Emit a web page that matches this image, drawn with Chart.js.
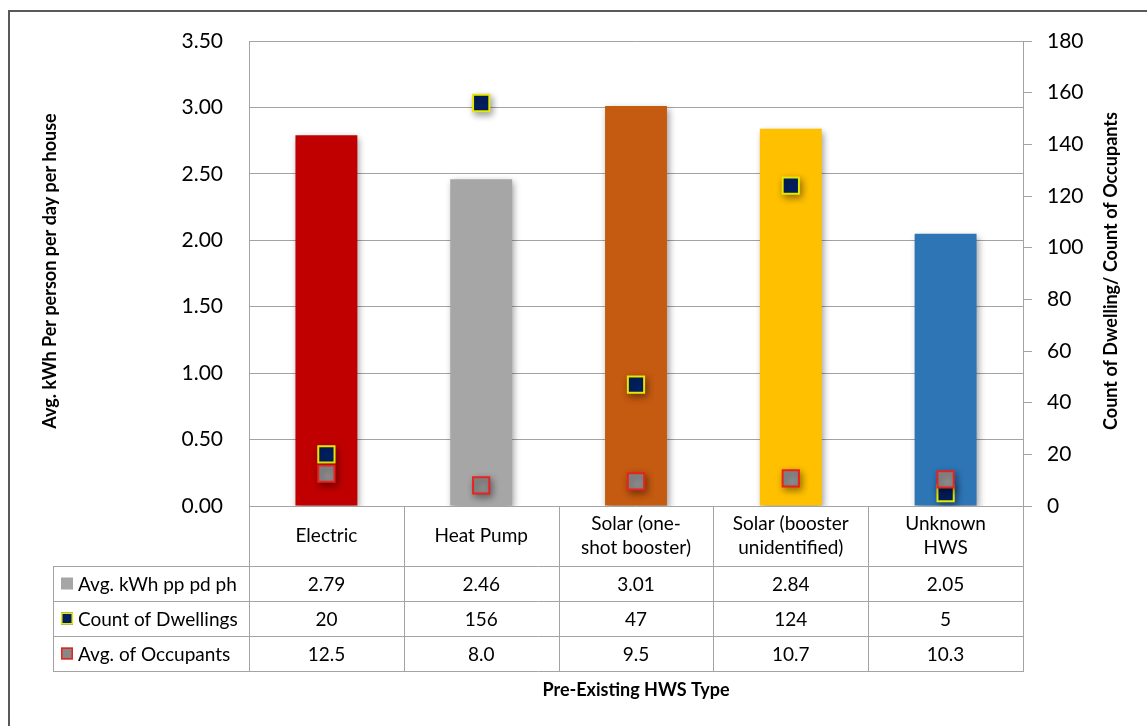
<!DOCTYPE html>
<html>
<head>
<meta charset="utf-8">
<script src="https://cdn.jsdelivr.net/npm/chart.js@4"></script>
<style>
  html, body { margin: 0; padding: 0; background: #fff; }
  #wrap { width: 1147px; height: 726px; position: relative; }
</style>
</head>
<body>
<div id="wrap"><canvas id="hwsChart"></canvas></div>
<script>
// HWS types (multi-line labels as shown in the table header)
const hwsTypes = [
  ['Electric'],
  ['Heat Pump'],
  ['Solar (one-', 'shot booster)'],
  ['Solar (booster', 'unidentified)'],
  ['Unknown', 'HWS']
];
const avgKwh = [2.79, 2.46, 3.01, 2.84, 2.05];
const dwellingCount = [20, 156, 47, 124, 5];
const avgOccupants = [12.5, 8.0, 9.5, 10.7, 10.3];

const seriesNames = ['Avg. kWh pp pd ph', 'Count of Dwellings', 'Avg. of Occupants'];
const barColors = ['#C00000', '#A6A6A6', '#C55A11', '#FFC000', '#2E75B6'];

const FONT = 'Lato, "Open Sans", sans-serif';
const gridColor = '#A3A3A3';

Chart.defaults.color = '#000';
Chart.defaults.font.family = FONT;

// soft drop shadow under bars and markers
const shadowPlugin = {
  id: 'shadow',
  beforeDatasetDraw(chart) {
    const ctx = chart.ctx;
    ctx.save();
    ctx.shadowColor = 'rgba(0,0,0,0.4)';
    ctx.shadowBlur = 7;
    ctx.shadowOffsetX = 2;
    ctx.shadowOffsetY = 3;
  },
  afterDatasetDraw(chart) {
    chart.ctx.restore();
  }
};

function drawKey(ctx, i, x, y) {
  if (i === 0) {
    ctx.fillStyle = '#A6A6A6';
    ctx.fillRect(x, y, 12, 12);
  } else if (i === 1) {
    ctx.fillStyle = '#002060';
    ctx.fillRect(x, y, 12, 12);
    ctx.strokeStyle = '#E8E800';
    ctx.lineWidth = 1.5;
    ctx.strokeRect(x + 0.75, y + 0.75, 10.5, 10.5);
  } else {
    ctx.fillStyle = '#888888';
    ctx.fillRect(x, y, 12, 12);
    ctx.strokeStyle = '#E8231F';
    ctx.lineWidth = 1.5;
    ctx.strokeRect(x + 0.75, y + 0.75, 10.5, 10.5);
  }
}

// data table under the plot, axis titles and outer frame
const tablePlugin = {
  id: 'hwsTable',
  afterDraw(chart) {
    const ctx = chart.ctx;
    const area = chart.chartArea;
    const xScale = chart.scales.x;
    const colW = (area.right - area.left) / hwsTypes.length;
    const headTop = area.bottom;
    const headBottom = headTop + 60;
    const rowH = 35;
    const tableLeft = 53;
    const tableBottom = headBottom + rowH * 3;

    ctx.save();
    ctx.strokeStyle = gridColor;
    ctx.lineWidth = 1;
    ctx.beginPath();
    // column dividers
    for (let i = 0; i <= hwsTypes.length; i++) {
      const x = Math.round(area.left + i * colW) + 0.5;
      ctx.moveTo(x, headTop);
      ctx.lineTo(x, tableBottom);
    }
    ctx.moveTo(tableLeft + 0.5, headBottom);
    ctx.lineTo(tableLeft + 0.5, tableBottom);
    for (let r = 0; r <= 3; r++) {
      const y = Math.round(headBottom + r * rowH) + 0.5;
      ctx.moveTo(tableLeft, y);
      ctx.lineTo(area.right + 1, y);
    }
    ctx.stroke();

    ctx.font = '19px ' + FONT;
    ctx.fillStyle = '#000';
    ctx.textAlign = 'center';
    ctx.textBaseline = 'middle';
    const midHead = (headTop + headBottom) / 2;
    hwsTypes.forEach((lines, i) => {
      const cx = xScale.getPixelForValue(i);
      const start = midHead - (lines.length - 1) * 12;
      lines.forEach((t, k) => ctx.fillText(t, cx, start + k * 24));
    });

    const rows = [
      avgKwh.map(v => v.toFixed(2)),
      dwellingCount.map(v => String(v)),
      avgOccupants.map(v => v.toFixed(1))
    ];
    rows.forEach((row, r) => {
      const cy = headBottom + r * rowH + rowH / 2;
      drawKey(ctx, r, 61, cy - 6);
      ctx.fillStyle = '#000';
      ctx.textAlign = 'left';
      ctx.fillText(seriesNames[r], 78, cy + 1);
      ctx.textAlign = 'center';
      row.forEach((txt, i) => ctx.fillText(txt, xScale.getPixelForValue(i), cy + 1));
    });

    // axis titles
    ctx.font = 'bold 18px ' + FONT;
    ctx.fillText('Pre-Existing HWS Type', (area.left + area.right) / 2, 690);
    ctx.save();
    ctx.translate(50, 271);
    ctx.rotate(-Math.PI / 2);
    ctx.fillText('Avg. kWh Per person per day per house', 0, 0);
    ctx.restore();
    ctx.save();
    ctx.translate(1111, 271);
    ctx.rotate(-Math.PI / 2);
    ctx.fillText('Count of Dwelling/ Count of Occupants', 0, 0);
    ctx.restore();

    // chart frame
    ctx.strokeStyle = '#595959';
    ctx.lineWidth = 2;
    ctx.strokeRect(9, 11, 1160, 740);
    ctx.restore();
  }
};

const ctx = document.getElementById('hwsChart').getContext('2d');
new Chart(ctx, {
  data: {
    labels: hwsTypes,
    datasets: [
      {
        type: 'bar',
        label: seriesNames[0],
        data: avgKwh,
        yAxisID: 'y',
        backgroundColor: barColors,
        borderWidth: 0,
        barPercentage: 0.4,
        categoryPercentage: 1,
        order: 2
      },
      {
        type: 'line',
        label: seriesNames[1],
        data: dwellingCount,
        yAxisID: 'y1',
        showLine: false,
        pointStyle: 'rect',
        pointRadius: 11.5,
        pointBackgroundColor: '#002060',
        pointBorderColor: '#E8E800',
        pointBorderWidth: 2,
        order: 1
      },
      {
        type: 'line',
        label: seriesNames[2],
        data: avgOccupants,
        yAxisID: 'y1',
        showLine: false,
        pointStyle: 'rect',
        pointRadius: 11.5,
        pointBackgroundColor: '#8C8C8C',
        pointBorderColor: '#E8231F',
        pointBorderWidth: 2,
        order: 0
      }
    ]
  },
  options: {
    responsive: true,
    maintainAspectRatio: false,
    animation: false,
    layout: { padding: { top: 41, bottom: 220, left: 0, right: 0 } },
    plugins: {
      legend: { display: false },
      tooltip: { enabled: false }
    },
    scales: {
      x: { display: false },
      y: {
        position: 'left',
        min: 0,
        max: 3.5,
        afterFit: scale => { scale.width = 249; },
        ticks: {
          stepSize: 0.5,
          padding: 26,
          font: { size: 21 },
          callback: v => v.toFixed(2)
        },
        grid: { color: gridColor, drawTicks: false },
        border: { display: true, color: gridColor }
      },
      y1: {
        position: 'right',
        min: 0,
        max: 180,
        afterFit: scale => { scale.width = 124; },
        ticks: {
          stepSize: 20,
          padding: 15,
          font: { size: 21 }
        },
        grid: { drawOnChartArea: false, drawTicks: true, tickLength: 9, color: gridColor },
        border: { display: true, color: gridColor }
      }
    }
  },
  plugins: [shadowPlugin, tablePlugin]
});
</script>
</body>
</html>
